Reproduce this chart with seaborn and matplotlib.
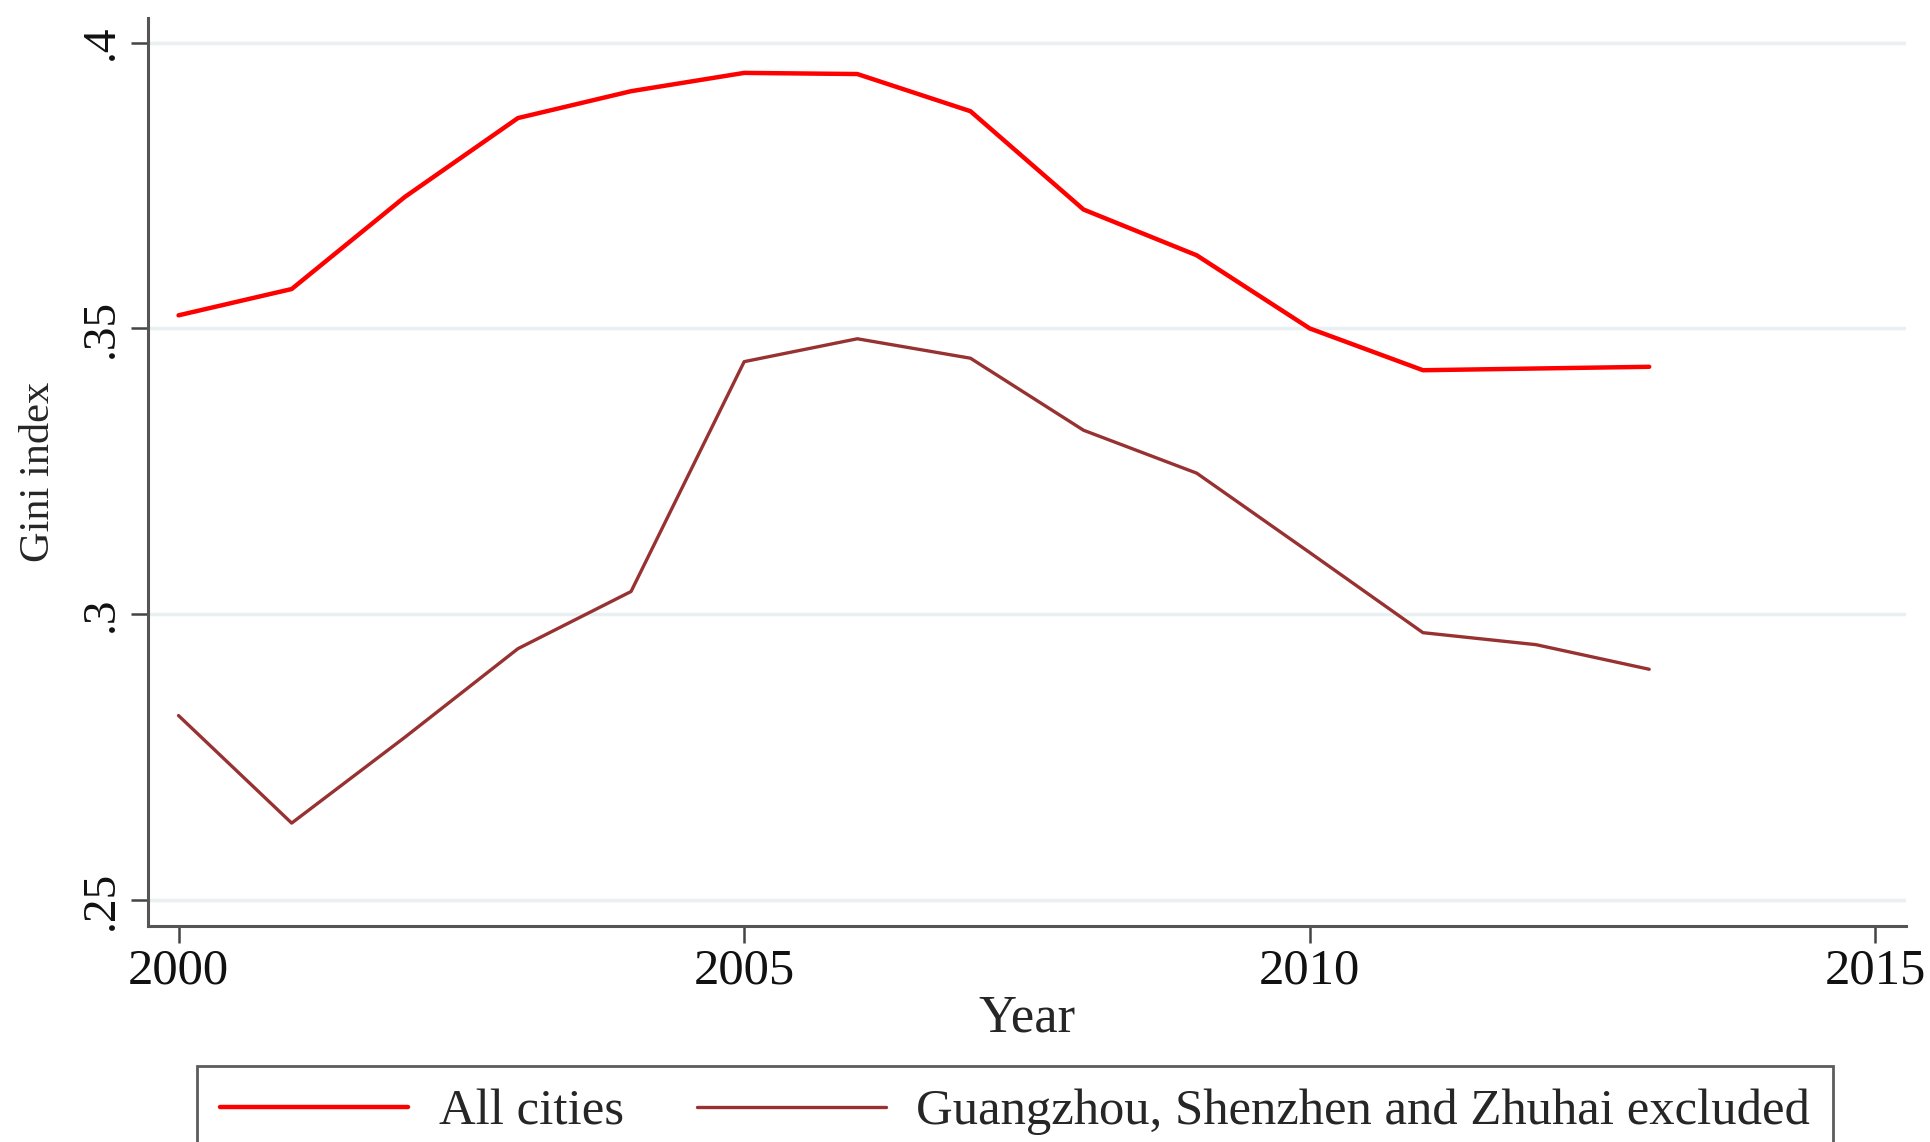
import numpy as np
import pandas as pd
import matplotlib
matplotlib.use("Agg")
import matplotlib.pyplot as plt
import seaborn as sns

years = list(range(2000, 2014))
all_cities = [0.3523, 0.3569, 0.3730, 0.3868, 0.3915, 0.3947, 0.3945, 0.3880,
              0.3708, 0.3628, 0.3500, 0.3427, 0.3430, 0.3433]
excluded = [0.2823, 0.2635, 0.2785, 0.2940, 0.3040, 0.3442, 0.3482, 0.3448,
            0.3322, 0.3247, 0.3108, 0.2968, 0.2947, 0.2904]
series_names = ["All cities", "Guangzhou, Shenzhen and Zhuhai excluded"]
series_colors = ["#ff0000", "#983232"]
x_ticks = [2000, 2005, 2010, 2015]
y_ticks = [0.25, 0.30, 0.35, 0.40]
y_tick_labels = [".25", ".3", ".35", ".4"]

df = pd.DataFrame({
    "Year": years * 2,
    "Gini": all_cities + excluded,
    "Series": [series_names[0]] * len(years) + [series_names[1]] * len(years),
})

sns.set_theme(style="white")
plt.rcParams["font.family"] = ["Liberation Serif", "DejaVu Serif"]

fig = plt.figure(figsize=(19.31, 11.42), dpi=100)
ax = fig.add_axes([148 / 1931, 1 - 926 / 1142, (1906 - 148) / 1931, (926 - 18) / 1142])

sns.lineplot(data=df, x="Year", y="Gini", hue="Series", palette=series_colors,
             hue_order=series_names, ax=ax, legend=True)
for line, lw in zip(ax.lines, [3.2, 2.4]):
    line.set_linewidth(lw)

ax.set_xlim(1999.73, 2015.27)
ax.set_ylim(0.2455, 0.4043)
ax.set_xticks(x_ticks)
ax.set_xticklabels([str(t) for t in x_ticks], fontsize=36.5)
ax.set_yticks(y_ticks)
ax.set_yticklabels(y_tick_labels, fontsize=34, rotation=90, va="center")
for y in y_ticks:
    ax.axhline(y, color="#e8f0f2", lw=2.5, zorder=0)

ax.set_xlabel("Year", fontsize=38, labelpad=0)
ax.set_ylabel("Gini index", fontsize=30.5, labelpad=16)

for side in ["top", "right"]:
    ax.spines[side].set_visible(False)
for side in ["left", "bottom"]:
    ax.spines[side].set_color("#555555")
    ax.spines[side].set_linewidth(2.2)
ax.tick_params(axis="both", direction="out", length=12, width=1.8, color="#444444",
               labelcolor="#111111", pad=6)
ax.tick_params(axis="x", bottom=True, pad=4)
ax.tick_params(axis="y", left=True)

handles, labels = ax.get_legend_handles_labels()
ax.get_legend().remove()
for h, lw in zip(handles, [3.2, 2.4]):
    h.set_linewidth(lw)
leg = fig.legend(handles, labels, loc="upper left", bbox_to_anchor=(197 / 1931, 1 - 1066 / 1142),
                 ncol=2, fontsize=36.5, frameon=True, fancybox=False, handlelength=3.72,
                 handletextpad=0.6, columnspacing=1.45, borderpad=0.45, borderaxespad=0)
leg.get_frame().set_edgecolor("#333333")
leg.get_frame().set_linewidth(2.0)

fig.savefig("out.png", dpi=100)
